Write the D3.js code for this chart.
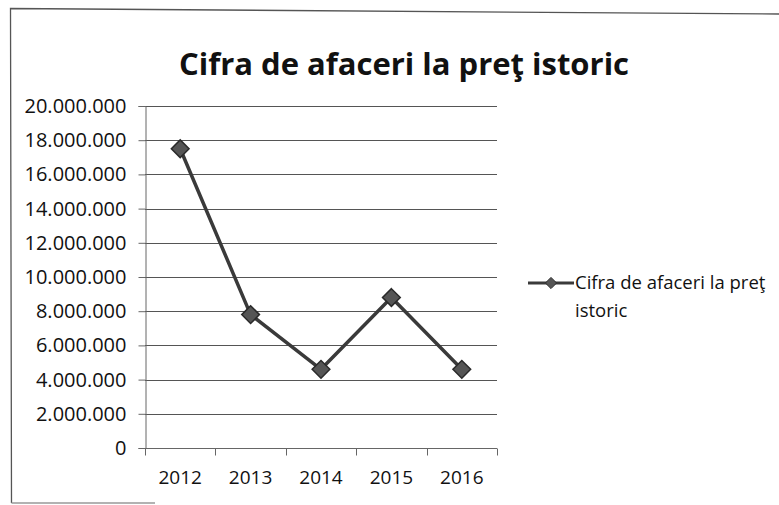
<!DOCTYPE html>
<html>
  <head>
    <meta charset="utf-8">
    <title>Cifra de afaceri la preţ istoric</title>
    <style>
      body {
        margin: 0;
        background: #fff;
        overflow: hidden;
      }

      text {
        font-family: "Open Sans", sans-serif;
        fill: #111;
      }

      .grid line {
        stroke: #555;
        stroke-width: 1px;
      }

      .axis path,
      .axis line {
        stroke: #666;
        stroke-width: 1px;
        fill: none;
      }

      .frame {
        fill: none;
        stroke: #555;
        stroke-width: 1.3px;
      }
    </style>
  </head>
  <body>
    <svg width="779" height="505"></svg>
  </body>
  <script src="https://d3js.org/d3.v7.min.js"></script>
  <script>
    const years = ['2012', '2013', '2014', '2015', '2016'];
    const turnover = [17500000, 7800000, 4600000, 8800000, 4600000];
    const yTicks = [0, 2000000, 4000000, 6000000, 8000000, 10000000, 12000000, 14000000, 16000000, 18000000, 20000000];
    const title = 'Cifra de afaceri la preţ istoric';
    const legendLines = ['Cifra de afaceri la preţ', 'istoric'];

    const svg = d3.select('svg');

    // scanned frame: top and left edges, a faint bit of the bottom
    svg.append('path')
      .attr('class', 'frame')
      .attr('d', 'M779,14L10.5,8.5L11.5,503');
    svg.append('path')
      .attr('class', 'frame')
      .attr('d', 'M11.5,503L155,503')
      .style('stroke', '#999');

    const plot = {left: 145, right: 497, top: 106, bottom: 448};

    const x = d3.scaleBand()
      .domain(years)
      .range([plot.left, plot.right]);

    const y = d3.scaleLinear()
      .domain([0, 20000000])
      .range([plot.bottom, plot.top]);

    // thousands with dots, like the source
    const fmt = d => d3.format(',')(d).replace(/,/g, '.');

    svg.append('text')
      .attr('x', 404)
      .attr('y', 75)
      .attr('text-anchor', 'middle')
      .style('font-size', '31px')
      .style('font-weight', 'bold')
      .text(title);

    svg.append('g')
      .attr('class', 'grid')
      .selectAll('line')
      .data(yTicks.filter(d => d > 0))
      .enter()
      .append('line')
      .attr('x1', plot.left)
      .attr('x2', plot.right)
      .attr('y1', d => Math.round(y(d)) + 0.5)
      .attr('y2', d => Math.round(y(d)) + 0.5);

    const yAxis = svg.append('g')
      .attr('class', 'axis')
      .attr('transform', 'translate(' + (plot.left + 0.5) + ',0)')
      .call(d3.axisLeft(y).tickValues(yTicks).tickFormat(fmt).tickSize(7).tickPadding(12));
    yAxis.selectAll('text').style('font-size', '20px');

    const xAxis = svg.append('g')
      .attr('class', 'axis')
      .attr('transform', 'translate(0,' + (plot.bottom + 0.5) + ')')
      .call(d3.axisBottom(x).tickSize(0).tickPadding(22));
    xAxis.select('.domain').attr('d', 'M' + plot.left + ',0H' + plot.right);
    xAxis.selectAll('text').style('font-size', '19px');

    // category boundary ticks under the axis
    xAxis.append('g')
      .selectAll('line')
      .data(years.concat(['end']))
      .enter()
      .append('line')
      .attr('x1', (d, i) => Math.round(plot.left + i * x.step()) + 0.5)
      .attr('x2', (d, i) => Math.round(plot.left + i * x.step()) + 0.5)
      .attr('y1', 0)
      .attr('y2', 7)
      .attr('stroke', '#666');

    const points = years.map((d, i) => [x(d) + x.bandwidth() / 2, y(turnover[i])]);

    svg.append('path')
      .datum(points)
      .attr('d', d3.line())
      .attr('fill', 'none')
      .attr('stroke', '#3a3a3a')
      .attr('stroke-width', 3.5)
      .attr('stroke-linejoin', 'round');

    const diamond = d3.symbol().type(d3.symbolDiamond2).size(200);

    svg.append('g')
      .selectAll('path')
      .data(points)
      .enter()
      .append('path')
      .attr('d', diamond)
      .attr('transform', d => 'translate(' + d[0] + ',' + d[1] + ')')
      .attr('fill', '#555')
      .attr('stroke', '#2a2a2a')
      .attr('stroke-width', 1.5);

    // legend
    const legend = svg.append('g').attr('transform', 'translate(528,283)');
    legend.append('line')
      .attr('x1', 0).attr('x2', 46)
      .attr('stroke', '#3a3a3a')
      .attr('stroke-width', 3.2);
    legend.append('path')
      .attr('d', d3.symbol().type(d3.symbolDiamond2).size(80))
      .attr('transform', 'translate(23,0)')
      .attr('fill', '#555')
      .attr('stroke', '#2a2a2a')
      .attr('stroke-width', 1);
    legend.append('text')
      .attr('x', 47)
      .attr('y', 6)
      .style('font-size', '18.5px')
      .selectAll('tspan')
      .data(legendLines)
      .enter()
      .append('tspan')
      .attr('x', 47)
      .attr('dy', (d, i) => i === 0 ? 0 : 28)
      .text(d => d);
  </script>
</html>
